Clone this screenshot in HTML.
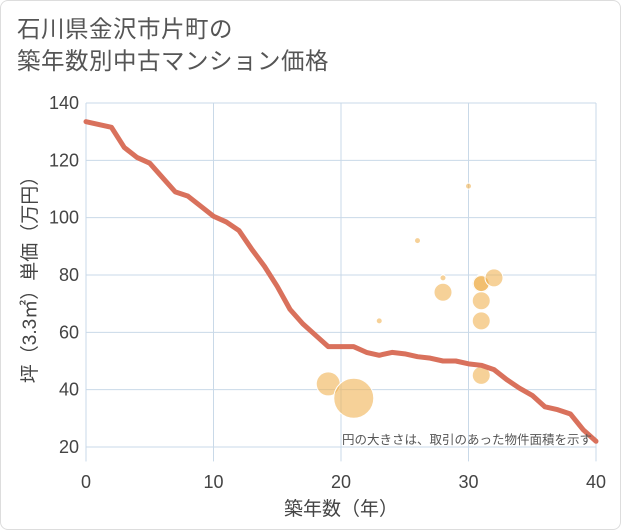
<!DOCTYPE html><html><head><meta charset="utf-8"><style>
body{margin:0;background:#fff;font-family:"Liberation Sans","Noto Sans CJK JP",sans-serif}
.frame{position:absolute;left:0;top:0;width:619px;height:528px;border:1px solid #ddd;border-radius:8px}
.title{position:absolute;left:17px;top:13px;font-size:23.5px;line-height:32px;color:#555;letter-spacing:0.5px}
</style></head><body>
<div class="frame"></div>
<div class="title">石川県金沢市片町の<br>築年数別中古マンション価格</div>
<svg id="c" width="621" height="530" style="position:absolute;left:0;top:0"></svg>
<script>
const xTicks=[0,10,20,30,40];
const yTicks=[20,40,60,80,100,120,140];
const lineYears=[0,2,3,4,5,6,7,8,9,10,11,12,13,14,15,16,17,18,19,20,21,22,23,24,25,26,27,28,29,30,31,32,33,34,35,36,37,38,39,40];
const linePrices=[133.5,131.5,124.5,121,119,114,109,107.5,104,100.5,98.5,95.5,89,83,76,68,63,59,55,55,55,53,52,53,52.5,51.5,51,50,50,49,48.5,47,43.5,40.5,38,34,33,31.5,26,22];
const bubbleYears=[19,21,23,26,28,28,30,31,31,31,31,31,32];
const bubblePrices=[42,37,64,92,79,74,111,77,71,64,45,77,79];
const bubbleSizes=[12,20,3,3,3,9,3,9,9,9,9,8,9];
const NS="http://www.w3.org/2000/svg",svg=document.getElementById('c');
const X=v=>86+v*12.75, Y=v=>447-(v-20)*344/120;
function mk(t,a,p){const e=document.createElementNS(NS,t);for(const k in a)e.setAttribute(k,a[k]);(p||svg).appendChild(e);return e;}
xTicks.forEach(t=>{const l=mk('line',{x1:X(t),x2:X(t),y1:Y(140),y2:Y(15),stroke:'#c9d9e8','stroke-width':1});


const tx=mk('text',{x:X(t),y:488,'text-anchor':'middle','font-size':18,fill:'#444'});tx.textContent=t;

});
yTicks.forEach(t=>{const l=mk('line',{x1:X(0),x2:X(40),y1:Y(t),y2:Y(t),stroke:'#c9d9e8','stroke-width':1});


const tx=mk('text',{x:79,y:Y(t)+6,'text-anchor':'end','font-size':18,fill:'#444'});tx.textContent=t;

});
const ax=mk('line',{x1:X(0),x2:X(0),y1:Y(140),y2:Y(15),stroke:'#c9d9e8'});


bubbleYears.forEach((yr,i)=>{const c=mk('circle',{cx:X(yr),cy:Y(bubblePrices[i]),r:bubbleSizes[i],fill:'rgba(240,178,84,0.6)',stroke:'#fff','stroke-width':1});

});
const p=mk('polyline',{points:lineYears.map((yr,i)=>X(yr)+','+Y(linePrices[i])).join(' '),fill:'none',stroke:'#d9715c','stroke-width':5,'stroke-linejoin':'round','stroke-linecap':'round'});


const n=mk('text',{x:592,y:444,'text-anchor':'end','font-size':12.5,fill:'#555'});n.textContent='円の大きさは、取引のあった物件面積を示す';


const xt=mk('text',{x:X(20),y:515,'text-anchor':'middle','font-size':19,fill:'#444'});xt.textContent='築年数（年）';


const yt=mk('text',{x:0,y:0,'text-anchor':'middle','font-size':19,fill:'#444',transform:'translate(36,'+Y(80)+') rotate(-90)'});yt.textContent='坪（3.3㎡）単価（万円）';


</script></body></html>
